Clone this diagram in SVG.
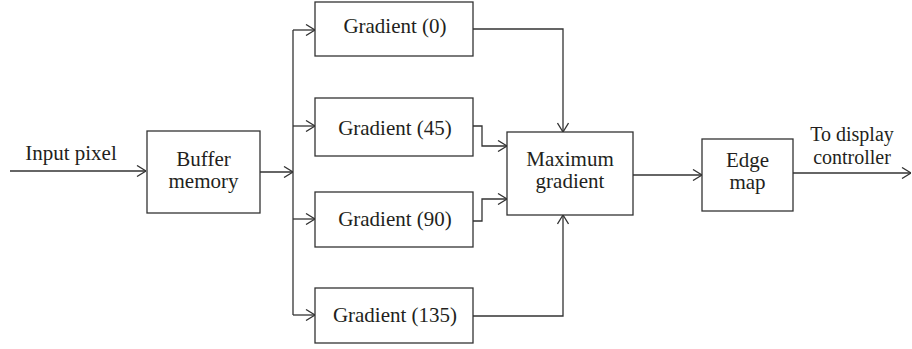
<svg xmlns="http://www.w3.org/2000/svg" width="912" height="349" viewBox="0 0 912 349">
  <style>
    .box { fill: #ffffff; stroke: #333333; stroke-width: 1.3; }
    .lbl { font-family: "Liberation Serif", "Times New Roman", serif; font-size: 21px; fill: #231f20; text-anchor: middle; }
    .sm { font-size: 20px; }
    .wire { fill: none; stroke: #333333; stroke-width: 1.3; }
  </style>
  <defs>
    <marker id="arr" viewBox="0 0 10 12" refX="10" refY="6" markerWidth="10" markerHeight="12" markerUnits="userSpaceOnUse" orient="auto">
      <path d="M1,0.5 L10,6 L1,11.5" fill="none" stroke="#333333" stroke-width="1.3"/>
    </marker>
  </defs>

  <!-- connectors -->
  <g id="connectors" class="wire">
    <path d="M10,171 H146" marker-end="url(#arr)"/>
    <path d="M260,172 H293" marker-end="url(#arr)"/>
    <path d="M293,30 V315"/>
    <path d="M293,30 H315" marker-end="url(#arr)"/>
    <path d="M293,126 H315" marker-end="url(#arr)"/>
    <path d="M293,219 H315" marker-end="url(#arr)"/>
    <path d="M293,315 H315" marker-end="url(#arr)"/>
    <path d="M473,29 H563 V132" marker-end="url(#arr)"/>
    <path d="M473,126 H482 V146 H507" marker-end="url(#arr)"/>
    <path d="M473,221 H482 V199 H507" marker-end="url(#arr)"/>
    <path d="M473,316 H563 V215" marker-end="url(#arr)"/>
    <path d="M633,175 H702" marker-end="url(#arr)"/>
    <path d="M793,173 H911" marker-end="url(#arr)"/>
  </g>

  <g id="input-label">
    <text class="lbl" x="71" y="160">Input pixel</text>
  </g>

  <g id="buffer">
    <rect class="box" x="147" y="131" width="113" height="82"/>
    <text class="lbl" x="203.5" y="166">Buffer</text>
    <text class="lbl" x="203.5" y="188">memory</text>
  </g>

  <g id="grad0">
    <rect class="box" x="315" y="2" width="158" height="54"/>
    <text class="lbl" x="395" y="33">Gradient (0)</text>
  </g>

  <g id="grad45">
    <rect class="box" x="315" y="98" width="158" height="58"/>
    <text class="lbl" x="395" y="135">Gradient (45)</text>
  </g>

  <g id="grad90">
    <rect class="box" x="315" y="192" width="158" height="55"/>
    <text class="lbl" x="395" y="226">Gradient (90)</text>
  </g>

  <g id="grad135">
    <rect class="box" x="315" y="288" width="158" height="55"/>
    <text class="lbl" x="395" y="322">Gradient (135)</text>
  </g>

  <g id="maxgrad">
    <rect class="box" x="507" y="132" width="126" height="83"/>
    <text class="lbl" x="570" y="166">Maximum</text>
    <text class="lbl" x="570" y="188">gradient</text>
  </g>

  <g id="edgemap">
    <rect class="box" x="702" y="139" width="91" height="72"/>
    <text class="lbl" x="747.5" y="167">Edge</text>
    <text class="lbl" x="747.5" y="189">map</text>
  </g>

  <g id="output-label">
    <text class="lbl sm" x="852" y="141">To display</text>
    <text class="lbl sm" x="852" y="164">controller</text>
  </g>
</svg>
